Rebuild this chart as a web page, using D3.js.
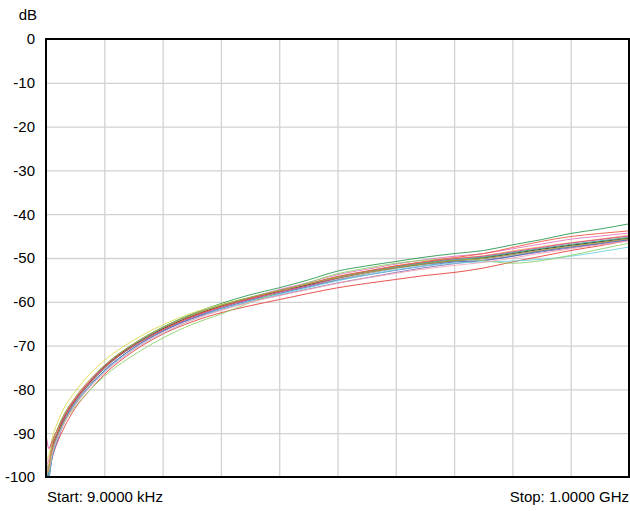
<!DOCTYPE html>
<html>
<head>
<meta charset="utf-8">
<script src="https://cdn.jsdelivr.net/npm/d3@7"></script>
<style>
    body { margin: 0; background: #fff; }
    svg text { font-family: "Liberation Sans", Arial, sans-serif; font-size: 15px; fill: #000; }
</style>
</head>
<body>
<svg id="chart" width="630" height="511"></svg>
<script>

// sweep points, MHz
var freqs = [0.009, 2, 5, 10, 20, 30, 50, 75, 100, 150, 200, 250, 300, 350, 400, 450,
             500, 550, 600, 650, 700, 750, 800, 850, 900, 950, 1000];

var yTicks = [0, -10, -20, -30, -40, -50, -60, -70, -80, -90, -100];

var startLabel = "Start: 9.0000 kHz";
var stopLabel = "Stop: 1.0000 GHz";
var unitLabel = "dB";

var traceColors = ["#2b9a55", "#e8413c", "#e377c2", "#f5a55a", "#d9d94a", "#9a9a9a",
                   "#222222", "#8c6bb1", "#4a6fc2", "#6fd3e0", "#8fd16a", "#d6408a",
                   "#3aa6a0", "#ee5a44", "#f4a6b8", "#b5a642"];

var trDarkGreen = [-95, -99, -98, -93, -89, -86, -82, -78, -74.6, -69.6, -65.8, -62.8, -60.4, -58.4, -56.8, -55.0, -53.0, -51.8, -50.8, -49.8, -49.0, -48.3, -47.0, -45.8, -44.4, -43.4, -42.2];
var trRed = [-96, -100, -99.5, -96, -92, -89, -84.3, -80.2, -76.6, -71.3, -67.4, -64.6, -62.5, -60.9, -59.5, -58.1, -56.8, -55.8, -54.9, -54.0, -53.3, -52.3, -50.9, -49.6, -48.3, -47.2, -46.0];
var trPink = [-93, -97, -96, -93, -89.5, -86.5, -82, -78, -74.8, -69.8, -66, -63, -60.8, -59, -57.2, -55.6, -53.8, -52.6, -51.4, -50.4, -49.6, -49.0, -47.9, -46.8, -45.7, -45.0, -44.3];
var trOrange = [-94, -98, -97, -93.5, -89.8, -86.8, -82.2, -78.2, -74.9, -69.9, -66.1, -63.1, -60.9, -59.1, -57.5, -55.9, -54.3, -53.0, -51.8, -50.9, -50.1, -49.5, -48.4, -47.4, -46.5, -45.7, -44.8];
var trYellow = [-92, -96, -95, -91.5, -87.5, -84.5, -80.5, -76.5, -73.4, -68.8, -65.3, -62.6, -60.6, -59.0, -57.5, -56.0, -54.4, -53.2, -52.1, -51.2, -50.5, -49.9, -48.9, -47.9, -47.0, -46.2, -45.3];
var trGray = [-95, -99, -98.5, -94.5, -90.3, -87.2, -82.8, -78.7, -75.2, -70.2, -66.5, -63.6, -61.3, -59.5, -57.9, -56.4, -54.9, -53.6, -52.4, -51.5, -50.8, -50.2, -49.3, -48.3, -47.4, -46.6, -45.7];
var trBlack = [-96, -100, -99, -94, -90, -86.8, -82.4, -78.4, -74.9, -69.9, -66.2, -63.3, -61.0, -59.2, -57.6, -56.1, -54.6, -53.3, -52.2, -51.3, -50.6, -50.0, -49.0, -48.0, -47.1, -46.3, -45.5];
var trPurple = [-94, -98, -97.5, -94.5, -90.5, -87.5, -83.2, -79.2, -75.7, -70.6, -66.8, -63.9, -61.8, -60.0, -58.5, -57.1, -55.7, -54.5, -53.3, -52.2, -51.3, -50.5, -49.6, -48.6, -47.7, -46.8, -45.9];
var trBlue = [-97, -100, -100, -96, -91.5, -88, -83.5, -79.3, -75.8, -70.5, -66.7, -63.8, -61.5, -59.7, -58.1, -56.6, -55.1, -53.9, -52.8, -51.8, -50.9, -50.6, -49.6, -48.4, -47.5, -46.7, -45.8];
var trCyan = [-95, -100, -99.5, -95.5, -91, -88, -83.5, -79.4, -76, -70.9, -67.2, -64.2, -61.8, -59.9, -58.3, -56.8, -55.2, -53.9, -52.7, -51.8, -51.2, -50.9, -50.7, -50.3, -49.6, -48.6, -47.5];
var trLightGreen = [-93, -98, -97.5, -94, -90.5, -87.8, -84, -80.2, -77, -72.2, -68.3, -65.2, -62.8, -60.2, -57.8, -55.6, -53.6, -52.3, -51.2, -50.5, -50.2, -50.6, -51.2, -50.6, -49.4, -48.0, -46.6];
var trMagenta = [-90, -92, -93.5, -92, -89, -86.5, -82.3, -78.3, -74.9, -70.1, -66.4, -63.5, -61.2, -59.4, -57.8, -56.3, -54.6, -53.2, -52.0, -51.0, -50.2, -49.6, -48.6, -47.6, -46.6, -45.8, -45.0];
var trTeal = [-96, -100, -99, -95, -90.6, -87.4, -82.9, -78.8, -75.3, -70.0, -66.0, -63.0, -60.8, -59.0, -57.4, -55.9, -54.3, -53.1, -52.0, -51.1, -50.4, -49.8, -48.8, -47.8, -46.9, -46.1, -45.3];
var trRed2 = [-95, -99, -98, -94, -90, -87, -82.6, -78.6, -75.1, -70.1, -66.4, -63.4, -61.1, -59.2, -57.5, -55.9, -54.2, -53.0, -51.8, -50.8, -49.9, -49.0, -47.6, -46.2, -45.1, -44.4, -43.8];
var trSalmon = [-94, -99, -98.5, -95, -91, -88, -83.6, -79.5, -76.2, -71.0, -67.2, -64.2, -62.0, -60.1, -58.6, -57.2, -55.8, -54.6, -53.5, -52.5, -51.7, -51.0, -50.0, -48.9, -47.9, -47.0, -46.1];
var trOlive = [-95, -99, -98, -93, -89, -86, -81.8, -77.8, -74.5, -69.6, -65.9, -63.0, -60.8, -59.0, -57.4, -55.9, -54.5, -53.3, -52.2, -51.3, -50.6, -50.1, -49.2, -48.2, -47.3, -46.5, -45.6];

var traces = [trDarkGreen, trRed, trPink, trOrange, trYellow, trGray, trBlack, trPurple,
              trBlue, trCyan, trLightGreen, trMagenta, trTeal, trRed2, trSalmon, trOlive];

var svg = d3.select("#chart");

var margin = {top: 39, right: 1, bottom: 34, left: 46};
var width = 630 - margin.left - margin.right,
    height = 511 - margin.top - margin.bottom;

var xScale = d3.scaleLinear()
    .domain([freqs[0], freqs[freqs.length - 1]])
    .range([0, width]);

var yScale = d3.scaleLinear()
    .domain([-100, 0])
    .range([height, 0]);

var g = svg.append("g")
    .attr("transform", "translate(" + margin.left + "," + margin.top + ")");

// grid, 10 divisions of the span
var gridX = d3.axisBottom(xScale)
    .tickValues(d3.range(1, 10).map(function (k) { return freqs[0] + k * (freqs[freqs.length - 1] - freqs[0]) / 10; }))
    .tickSize(-height)
    .tickFormat("");

var gridY = d3.axisLeft(yScale)
    .tickValues(yTicks.slice(1, -1))
    .tickSize(-width)
    .tickFormat("");

g.append("g")
    .attr("class", "grid")
    .attr("transform", "translate(0," + height + ")")
    .call(gridX);

g.append("g")
    .attr("class", "grid")
    .call(gridY);

g.selectAll(".grid path.domain").remove();
g.selectAll(".grid line")
    .attr("stroke", "#d2d2d2")
    .attr("stroke-width", 1.3);

// traces
g.append("defs").append("clipPath")
    .attr("id", "clip")
    .append("rect")
    .attr("width", width)
    .attr("height", height + 1);

var line = d3.line()
    .x(function (d, i) { return xScale(freqs[i]); })
    .y(function (d) { return yScale(d); })
    .curve(d3.curveMonotoneX);

g.append("g")
    .attr("clip-path", "url(#clip)")
    .selectAll("path")
    .data(traces)
    .enter()
    .append("path")
    .attr("d", line)
    .attr("fill", "none")
    .attr("stroke", function (d, i) { return traceColors[i]; })
    .attr("stroke-width", 1)
    .attr("stroke-opacity", 0.9);

// frame
g.append("rect")
    .attr("x", 0)
    .attr("y", 0)
    .attr("width", width)
    .attr("height", height)
    .attr("fill", "none")
    .attr("stroke", "#000")
    .attr("stroke-width", 2);

// y labels (plain hyphen, like the instrument)
var yAxis = d3.axisLeft(yScale)
    .tickValues(yTicks)
    .tickSize(0)
    .tickPadding(11)
    .tickFormat(function (d) { return String(d); });

var gY = g.append("g").call(yAxis);
gY.select("path.domain").remove();
gY.attr("font-family", null).attr("font-size", null);
gY.selectAll("text").attr("fill", "#000");

svg.append("text")
    .attr("x", 37)
    .attr("y", 20)
    .attr("text-anchor", "end")
    .text(unitLabel);

svg.append("text")
    .attr("x", margin.left + 1)
    .attr("y", 502)
    .text(startLabel);

svg.append("text")
    .attr("x", 629)
    .attr("y", 502)
    .attr("text-anchor", "end")
    .text(stopLabel);

</script>
</body>
</html>
